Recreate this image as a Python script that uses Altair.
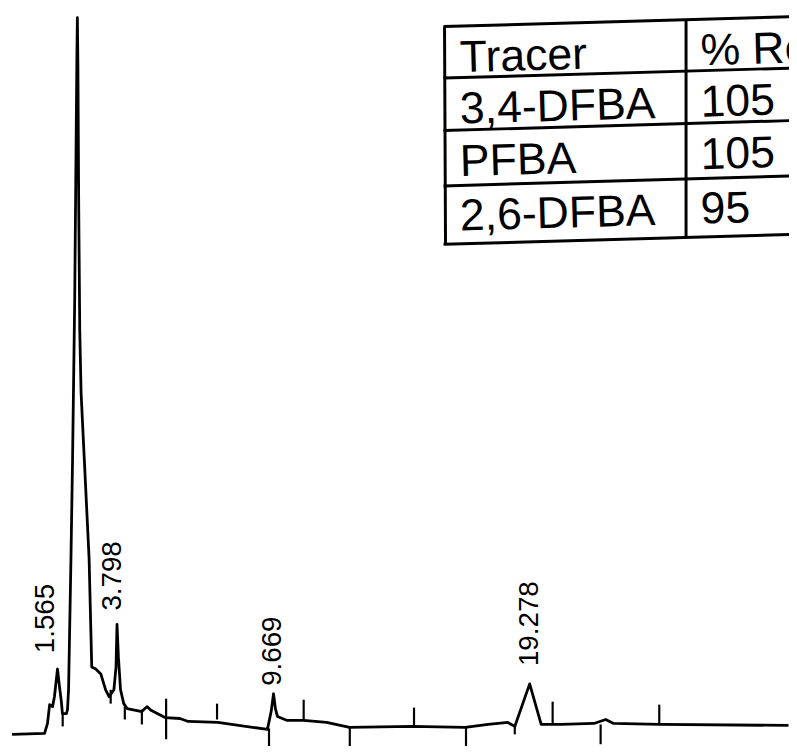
import altair as alt
import pandas as pd

# ---------------- data ----------------
# retention time (min) and detector response (arbitrary units)
trace_time = [-0.14, 1.08, 1.19, 1.27, 1.38, 1.45, 1.565, 1.64, 1.71, 1.75, 1.90, 1.94, 1.98,
              2.07, 2.13, 2.21, 2.26, 2.29, 2.31, 2.33, 2.36, 2.40, 2.45, 2.57, 2.75, 2.85,
              3.00, 3.19, 3.37, 3.50, 3.68, 3.76, 3.798, 3.85, 3.93, 4.05, 4.18, 4.73, 4.92,
              5.09, 5.60, 6.16, 6.47, 7.58, 9.44, 9.58, 9.669, 9.74, 9.82, 10.18, 10.80,
              11.66, 12.52, 14.88, 16.86, 17.72, 18.46, 18.72, 19.278, 19.71, 20.45, 21.69,
              22.13, 22.43, 24.17, 28.99]
trace_signal = [8, 9, 19, 38, 36, 46, 74, 56, 41, 29, 29, 33, 53,
                186, 286, 446, 596, 686, 732, 686, 546, 416, 353, 286, 186, 76,
                74, 69, 53, 46, 53, 76, 119, 86, 53, 39, 34, 31, 36,
                32, 25, 24, 21, 20, 13, 31, 49, 34, 26, 22, 22,
                20, 15, 16, 15, 18, 20, 16, 59, 18, 18, 19,
                23, 19, 18, 17]

# peak retention-time labels
peak_labels = ["1.565", "3.798", "9.669", "19.278"]
label_time = [1.14, 3.65, 9.669, 19.278]
label_signal = [90, 133, 57, 77]

# integration tick marks (time, low, high)
tick_time = [1.76, 3.56, 4.09, 4.73, 5.64, 7.55, 9.50, 10.80, 12.53, 14.94, 16.89, 18.72,
             20.14, 21.94, 24.14]
tick_lo = [16, 39, 23, 18, 3, 23, -7, 23, -6, 16, -4, 8, 19, -2, 19]
tick_hi = [29, 53, 36, 33, 44, 39, 14, 43, 16, 35, 16, 16, 41, 18, 38]

# recovery table
table_header = ["Tracer", "% Recovery"]
tracers = ["3,4-DFBA", "PFBA", "2,6-DFBA"]
recovery = ["105", "105", "95"]

# ---------------- layout ----------------
W, H = 789, 738
OX, OY = 8, 8          # page offset of the plot area
slope = -10 / 349      # scanned table is slightly tilted

xs = alt.Scale(domain=[-0.292, 29.007], nice=False, zero=False)
ys = alt.Scale(domain=[0, 738], nice=False, zero=False)

trace_df = pd.DataFrame({"t": trace_time, "s": trace_signal, "i": range(len(trace_time))})
trace = alt.Chart(trace_df).mark_line(color="black", strokeWidth=2.8, strokeJoin="round").encode(
    x=alt.X("t:Q", scale=xs, axis=None),
    y=alt.Y("s:Q", scale=ys, axis=None),
    order="i:Q",
)

tick_df = pd.DataFrame({"t": tick_time, "lo": tick_lo, "hi": tick_hi})
ticks = alt.Chart(tick_df).mark_rule(color="black", strokeWidth=2.2).encode(
    x=alt.X("t:Q", scale=xs, axis=None),
    y=alt.Y("lo:Q", scale=ys, axis=None),
    y2="hi:Q",
)

lab_df = pd.DataFrame({"t": label_time, "s": label_signal, "txt": peak_labels})
labels = alt.Chart(lab_df).mark_text(
    angle=270, align="left", baseline="middle", fontSize=28,
    font="Liberation Sans", color="black",
).encode(
    x=alt.X("t:Q", scale=xs, axis=None),
    y=alt.Y("s:Q", scale=ys, axis=None),
    text="txt:N",
)

# table lines (page pixel geometry of the pasted table)
def yt(y_left, x):
    return y_left + slope * (x - 448)

row_lines = [23, 75, 128, 184, 243]
seg = []
for yl in row_lines:
    seg.append({"x1": 448 - OX, "y1": yt(yl, 448) - OY, "x2": 820 - OX, "y2": yt(yl, 820) - OY})
seg.append({"x1": 449 - OX, "y1": 23 - OY, "x2": 450 - OX, "y2": 243 - OY})
seg.append({"x1": 693 - OX, "y1": yt(23, 693) - OY, "x2": 693 - OX, "y2": yt(243, 693) - OY})
seg_df = pd.DataFrame(seg)
table_lines = alt.Chart(seg_df).mark_rule(color="black", strokeWidth=3).encode(
    x=alt.X("x1:Q", scale=None, axis=None),
    x2="x2:Q",
    y=alt.Y("y1:Q", scale=None, axis=None),
    y2="y2:Q",
)

left_base = [69, 121, 174, 229]
cells = []
col_left = [table_header[0]] + tracers
col_right = [table_header[1]] + recovery
for k in range(4):
    cells.append({"x": 465 - OX, "y": left_base[k] - OY, "txt": col_left[k]})
    cells.append({"x": 708 - OX, "y": left_base[k] + slope * (708 - 465) - OY, "txt": col_right[k]})
cell_df = pd.DataFrame(cells)
table_text = alt.Chart(cell_df).mark_text(
    angle=358.4, align="left", baseline="alphabetic", fontSize=45,
    font="Liberation Sans", color="black",
).encode(
    x=alt.X("x:Q", scale=None, axis=None),
    y=alt.Y("y:Q", scale=None, axis=None),
    text="txt:N",
)

chart = alt.layer(trace, ticks, labels, table_lines, table_text).resolve_scale(
    x="independent", y="independent"
).properties(
    width=W, height=H, padding=0,
    autosize=alt.AutoSizeParams(type="none"),
    background="white",
).configure_view(stroke=None)

chart.save("out.html", embed_options={"renderer": "svg", "actions": False})
